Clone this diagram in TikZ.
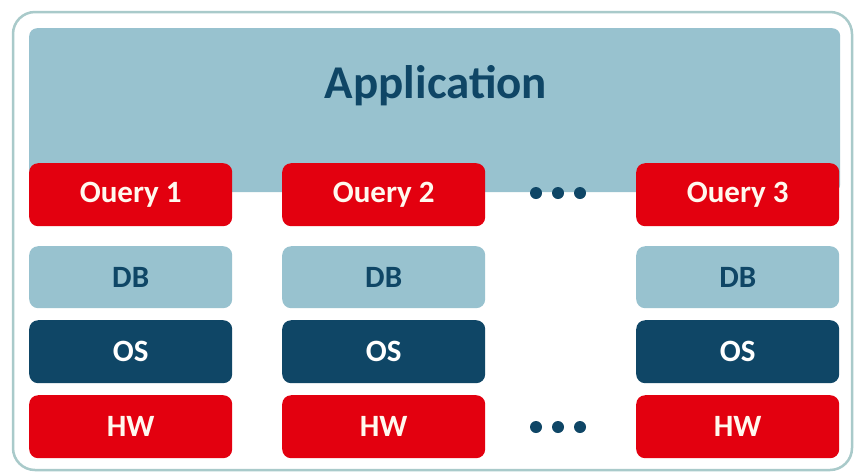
\documentclass[tikz,border=0pt]{standalone}
\usepackage{fontspec}
\setmainfont{Carlito}
\definecolor{lightb}{HTML}{98C2CF}
\definecolor{navy}{HTML}{0F4666}
\definecolor{redq}{HTML}{E3000F}
\definecolor{frameb}{HTML}{A9CACA}
\definecolor{txtw}{HTML}{FFF8EE}
\begin{document}
\begin{tikzpicture}[x=1pt,y=-1pt,
  layer/.style={rounded corners=9pt, inner sep=0pt, font=\fontsize{31}{34}\selectfont\bfseries},
  redbox/.style={layer, fill=redq, text=txtw},
  dbbox/.style={layer, fill=lightb, text=navy},
  osbox/.style={layer, fill=navy, text=white},
  dot/.style={circle, fill=navy, inner sep=0pt, minimum size=12pt}]
\useasboundingbox (0,0) rectangle (856,475);
\fill[white] (0,0) rectangle (856,475);
\draw[frameb, line width=2.5pt, rounded corners=22pt] (13,12) rectangle (852,470);
% application
\node[layer, fill=lightb, minimum width=811pt, minimum height=164pt, anchor=north west, rounded corners=8pt] (app) at (29,28) {};
\node[text=navy, font=\fontsize{47}{52}\selectfont\bfseries] (apptxt) at (436,86) {Application};
% columns
\foreach \n/\x/\q in {1/29/Ouery 1, 2/282/Ouery 2, 3/636/Ouery 3}{
  \node[redbox, minimum width=203pt, minimum height=63pt, anchor=north west] (q\n) at (\x,163) {\q};
  \node[dbbox, minimum width=203pt, minimum height=62pt, anchor=north west] (db\n) at (\x,246) {DB};
  \node[osbox, minimum width=203pt, minimum height=63pt, anchor=north west] (os\n) at (\x,320) {OS};
  \node[redbox, minimum width=203pt, minimum height=63pt, anchor=north west] (hw\n) at (\x,395) {HW};
}
\foreach \i/\x in {1/536, 2/558, 3/580}{
  \node[dot] (ta\i) at (\x,193) {};
  \node[dot] (tb\i) at (\x,427) {};
}
\end{tikzpicture}
\end{document}
